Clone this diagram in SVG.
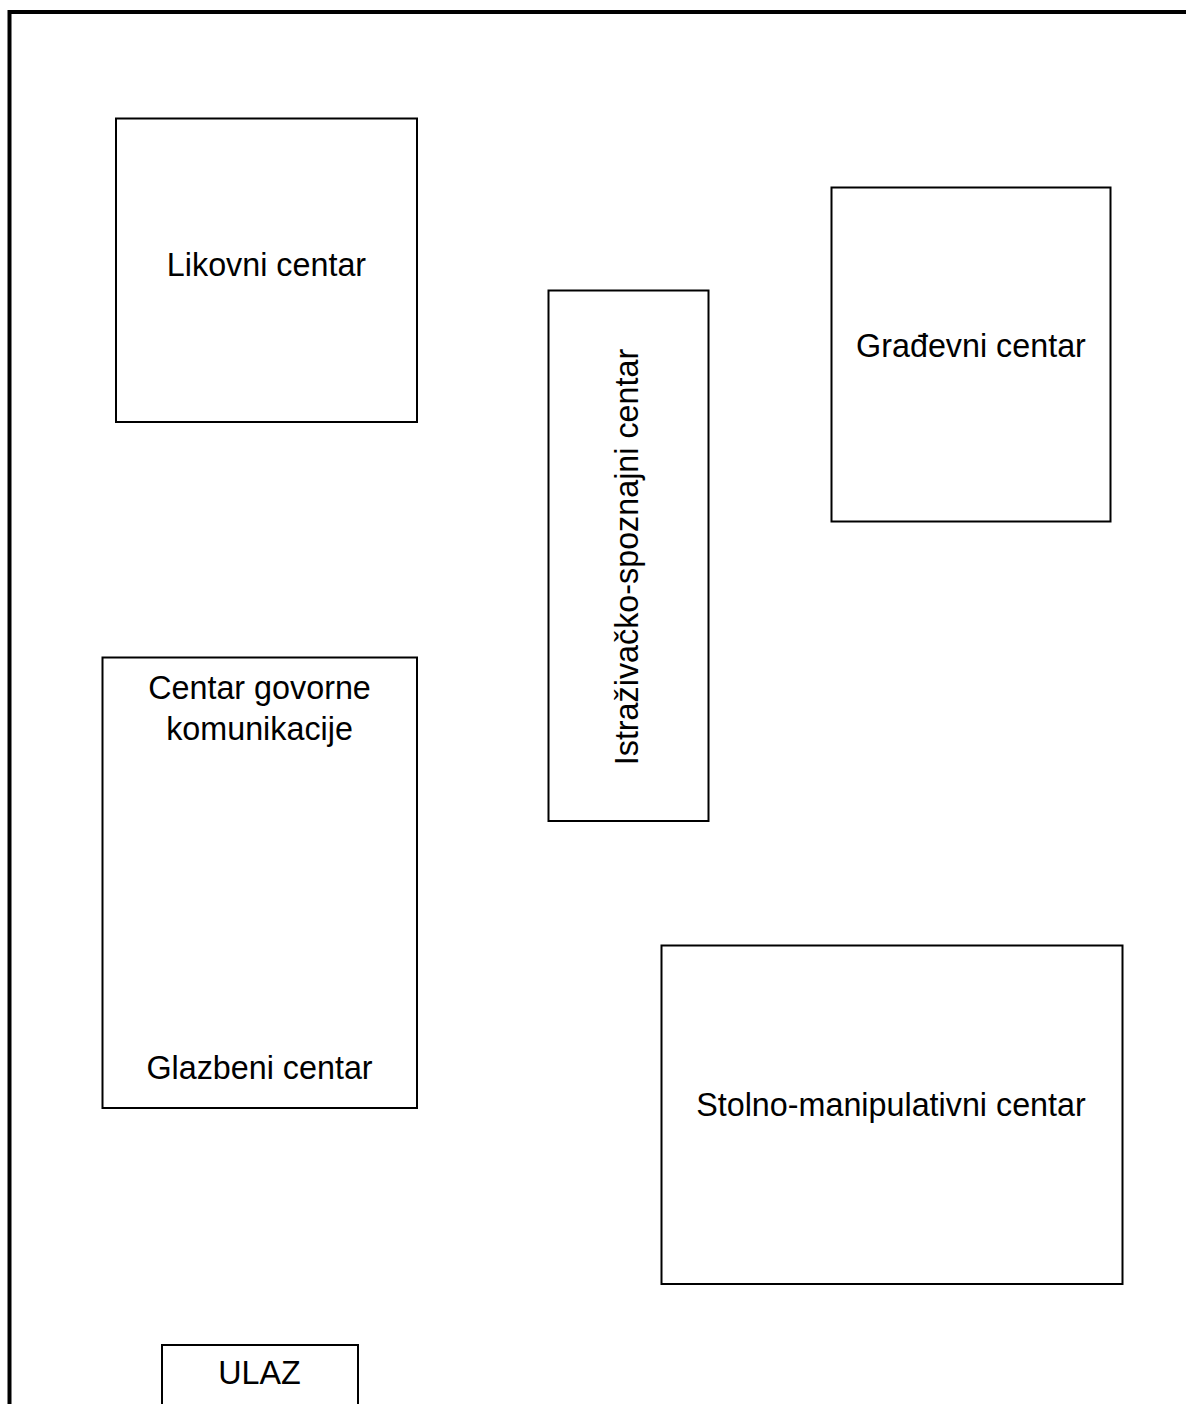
<svg xmlns="http://www.w3.org/2000/svg" width="1186" height="1404" viewBox="0 0 1186 1404">
<style>
.box{fill:#fff;stroke:#000;stroke-width:2}
.lbl{font-family:"Liberation Sans",Arial,sans-serif;font-size:32.3px;fill:#000;text-anchor:middle}
</style>
<rect x="0" y="0" width="1186" height="1404" fill="#fff"/>
<rect id="room" x="9.5" y="12" width="1200" height="1420" fill="none" stroke="#000" stroke-width="4"/>
<g id="connectors"/>
<g id="likovni">
<rect class="box" x="116" y="118.5" width="301" height="303.5"/>
<text class="lbl" x="266.5" y="276">Likovni centar</text>
</g>
<g id="istrazivacko">
<rect class="box" x="548.5" y="290.5" width="160" height="530.5"/>
<text class="lbl" transform="translate(638,557) rotate(-90)">Istraživačko-spoznajni centar</text>
</g>
<g id="gradjevni">
<rect class="box" x="831.5" y="187.5" width="279" height="334"/>
<text class="lbl" x="971" y="357">Građevni centar</text>
</g>
<g id="govorne">
<rect class="box" x="102.5" y="657.5" width="314.5" height="450.5"/>
<text class="lbl" x="259.5" y="699">Centar govorne</text>
<text class="lbl" x="259.5" y="740">komunikacije</text>
<text class="lbl" x="259.5" y="1079">Glazbeni centar</text>
</g>
<g id="stolno">
<rect class="box" x="661.5" y="945.5" width="461" height="338.5"/>
<text class="lbl" x="891" y="1116">Stolno-manipulativni centar</text>
</g>
<g id="ulaz">
<rect class="box" x="162" y="1345" width="196" height="80"/>
<text class="lbl" x="259.5" y="1384">ULAZ</text>
</g>
</svg>
